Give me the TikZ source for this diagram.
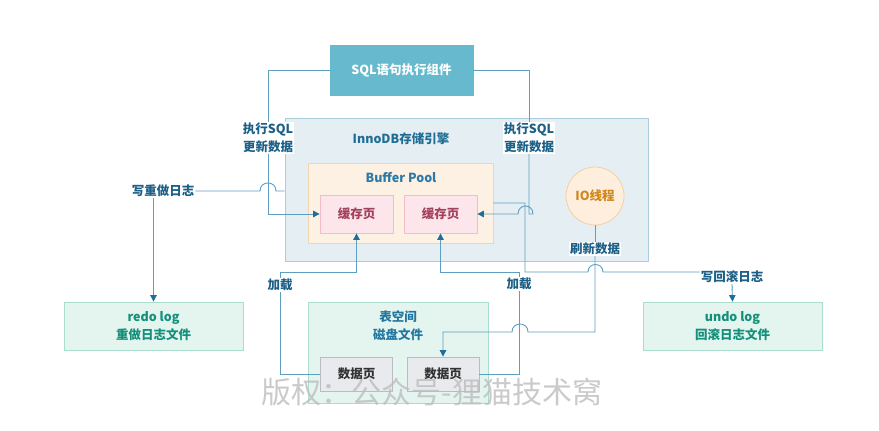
\documentclass[tikz,border=0pt]{standalone}
\usepackage{fontspec}
\setmainfont{Noto Sans CJK SC}
\usetikzlibrary{arrows.meta,calc}
\definecolor{sqlfill}{HTML}{67B9CE}
\definecolor{innofill}{HTML}{E5EFF3}
\definecolor{innodraw}{HTML}{A9CDDB}
\definecolor{innotext}{HTML}{1F6D92}
\definecolor{bpfill}{HTML}{FDF1E4}
\definecolor{bpdraw}{HTML}{F6D3AF}
\definecolor{bptext}{HTML}{2C79A8}
\definecolor{cfill}{HTML}{FDE6EB}
\definecolor{cdraw}{HTML}{F4BCC8}
\definecolor{ctext}{HTML}{A3415F}
\definecolor{iofill}{HTML}{FDEEDD}
\definecolor{iodraw}{HTML}{F5CFA2}
\definecolor{iotext}{HTML}{D0871C}
\definecolor{gfill}{HTML}{E4F4EF}
\definecolor{gdraw}{HTML}{A9DECE}
\definecolor{gtext}{HTML}{13907A}
\definecolor{tstext}{HTML}{2277A0}
\definecolor{dfill}{HTML}{E9EAEE}
\definecolor{ddraw}{HTML}{B9BCC3}
\definecolor{dtext}{HTML}{333333}
\definecolor{lblc}{HTML}{1C5F87}
\definecolor{linec}{HTML}{5E9EC0}
\definecolor{arrowc}{HTML}{1F6E9A}
\definecolor{wmc}{HTML}{BDBDBD}
\tikzset{
  base/.style={font=\fontsize{12.5}{17.5}\selectfont\bfseries, align=center, inner sep=0pt},
  box/.style={base, draw, line width=0.8pt, rectangle},
  cache/.style={box, fill=cfill, draw=cdraw, text=ctext, minimum width=73pt, minimum height=38pt},
  gbox/.style={box, fill=gfill, draw=gdraw, text=gtext, minimum width=179pt, minimum height=48pt},
  dpage/.style={box, fill=dfill, draw=ddraw, text=dtext, minimum width=72pt, minimum height=34pt},
  conn/.style={draw=linec, line width=0.9pt},
  arr/.style={conn, -{Triangle[length=6.5pt,width=6.5pt,color=arrowc]}},
  lbl/.style={base, fill=white, text=lblc, inner sep=1pt},
}
\begin{document}
\begin{tikzpicture}[x=1pt,y=-1pt]
\useasboundingbox (0,0) rectangle (879,431);
% boxes
\node[box, fill=sqlfill, draw=sqlfill, text=white, minimum width=143pt, minimum height=50pt] (sql) at (401.5,70) {SQL语句执行组件};
\node[box, fill=innofill, draw=innodraw, minimum width=363pt, minimum height=143pt] (inno) at (466.5,189.5) {};
\node[base, text=innotext] (innot) at (401,139) {InnoDB存储引擎};
\node[box, fill=bpfill, draw=bpdraw, minimum width=185pt, minimum height=80pt] (bp) at (400.5,203) {};
\node[base, text=bptext] (bpt) at (401,178) {Buffer Pool};
\node[cache] (c1) at (356.5,214) {缓存页};
\node[cache] (c2) at (440.5,214) {缓存页};
\node[base, circle, draw=iodraw, fill=iofill, line width=0.8pt, text=iotext, minimum size=58pt] (io) at (595,196) {IO线程};
\node[gbox] (redo) at (153.5,326) {redo log\\重做日志文件};
\node[gbox] (undo) at (732.5,326) {undo log\\回滚日志文件};
\node[box, fill=gfill, draw=gdraw, minimum width=180pt, minimum height=101pt] (ts) at (398,352.5) {};
\node[base, text=tstext] (tst) at (398,325.5) {表空间\\磁盘文件};
\node[dpage] (d1) at (356.5,374) {数据页};
\node[dpage] (d2) at (443,374) {数据页};
% labels
\node[lbl] (lL) at (268,138) {执行SQL\\更新数据};
\node[lbl] (lR) at (529,138) {执行SQL\\更新数据};
\node[lbl] (lRedo) at (163,191) {写重做日志};
\node[lbl] (lFlush) at (595,249) {刷新数据};
\node[lbl] (lUndo) at (732,277) {写回滚日志};
\node[lbl] (lLoad1) at (280,285) {加载};
\node[lbl] (lLoad2) at (519,284) {加载};
% connectors
\draw[conn] (sql.west) -| (lL.north);
\draw[arr] (lL.south) |- (c1.west);
\draw[conn] (lRedo.east) -- (260,191) .. controls (260,180.3) and (276,180.3) .. (276,191) -- (inno.west |- lRedo.east);
\draw[arr] (lRedo.south -| redo.north) -- (redo.north);
\draw[conn] (sql.east) -| (lR.north);
\draw[arr] (lR.south) -- (529,214) -- (533,214) .. controls (533,203.3) and (518,203.3) .. (518,214) -- (c2.east);
\draw[conn] (bp.east) -- (525,203) -- (525,272) -- (588,272) .. controls (588,262) and (603,262) .. (603,272) -- (lUndo.west |- 0,272);
\draw[arr] (lUndo.south) -- (undo.north);
\draw[conn] (io.south) -- (lFlush.north);
\draw[arr] (lFlush.south) -- (595,332) -- (528,332) .. controls (528,321.3) and (512,321.3) .. (512,332) -- (d2.north |- 0,332) -- (d2.north);
\draw[conn] (d1.west) -| (lLoad1.south);
\draw[arr] (lLoad1.north) -- (280,272) -| (c1.south);
\draw[conn] (d2.east) -| (lLoad2.south);
\draw[arr] (lLoad2.north) -- (519,272) -| (c2.south);
% watermark
\node[font=\fontsize{30}{30}\selectfont, text=wmc, text opacity=0.8, inner sep=0pt] (wm) at (432,392) {版权：公众号-狸猫技术窝};
\end{tikzpicture}
\end{document}
